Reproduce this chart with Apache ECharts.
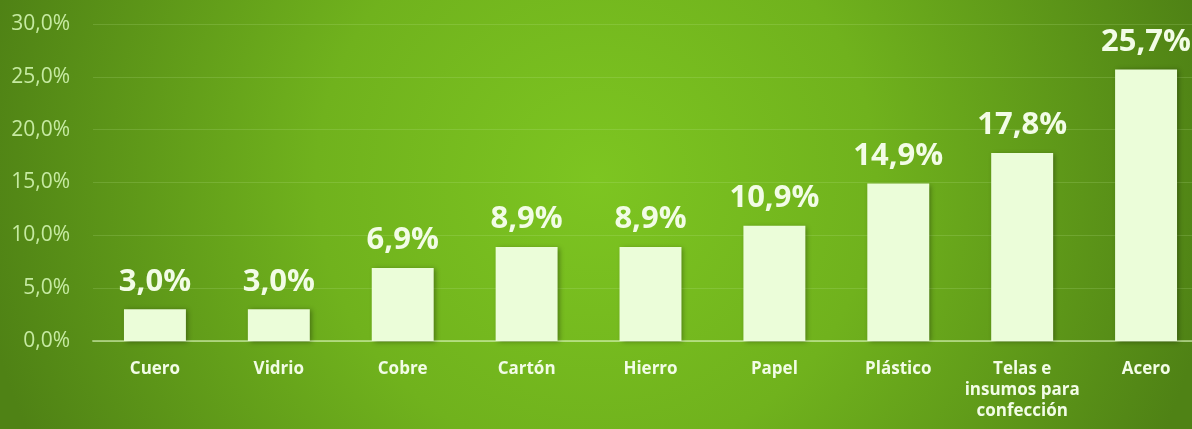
<!DOCTYPE html>
<html><head><meta charset="utf-8">
<script src="https://cdn.jsdelivr.net/npm/echarts@6/dist/echarts.min.js"></script>
<style>html,body{margin:0;padding:0;}#c{width:1192px;height:429px;}</style>
</head><body><div id="c"></div>
<script>
const categories = ['Cuero','Vidrio','Cobre','Cartón','Hierro','Papel','Plástico','Telas e\ninsumos para\nconfección','Acero'];
const values = [3.0, 3.0, 6.9, 8.9, 8.9, 10.9, 14.9, 17.8, 25.7];
const yTicks = [0, 5, 10, 15, 20, 25, 30];

const fmt = v => v.toFixed(1).replace('.', ',') + '%';
const chart = echarts.init(document.getElementById('c'));
chart.setOption({
  backgroundColor: new echarts.graphic.RadialGradient(0.5, 0.42, 1.45, [
    {offset: 0, color: '#7dc521'},
    {offset: 0.45, color: '#70b21d'},
    {offset: 1, color: '#4f8215'}
  ]),
  animation: false,
  grid: {left: 93, width: 1115, top: 24, bottom: 88, outerBoundsMode: 'none', containLabel: false},
  xAxis: {
    type: 'category', data: categories,
    axisLine: {lineStyle: {color: 'rgba(220,245,190,0.55)', width: 2}},
    axisTick: {show: false},
    axisLabel: {color: '#f2fce6', fontFamily: 'Open Sans', fontWeight: 'bold', fontSize: 17, margin: 18, lineHeight: 21, interval: 0}
  },
  yAxis: {
    type: 'value', min: yTicks[0], max: yTicks[yTicks.length-1], interval: 5,
    axisLine: {show: false}, axisTick: {show: false},
    splitLine: {lineStyle: {color: 'rgba(200,240,160,0.18)', width: 1}},
    axisLabel: {color: '#c6eaa2', fontFamily: 'Open Sans', fontSize: 21, margin: 23, formatter: v => fmt(v)}
  },
  series: [{
    type: 'bar', data: values, barWidth: '50%',
    itemStyle: {color: '#ebfdd9', shadowColor: 'rgba(0,0,0,0.35)', shadowBlur: 5, shadowOffsetX: 2, shadowOffsetY: 1},
    label: {show: true, position: 'top', distance: 12, color: '#f2fce6', fontFamily: 'Open Sans', fontWeight: 'bold', fontSize: 31, formatter: p => fmt(p.value)}
  }]
});
</script></body></html>
